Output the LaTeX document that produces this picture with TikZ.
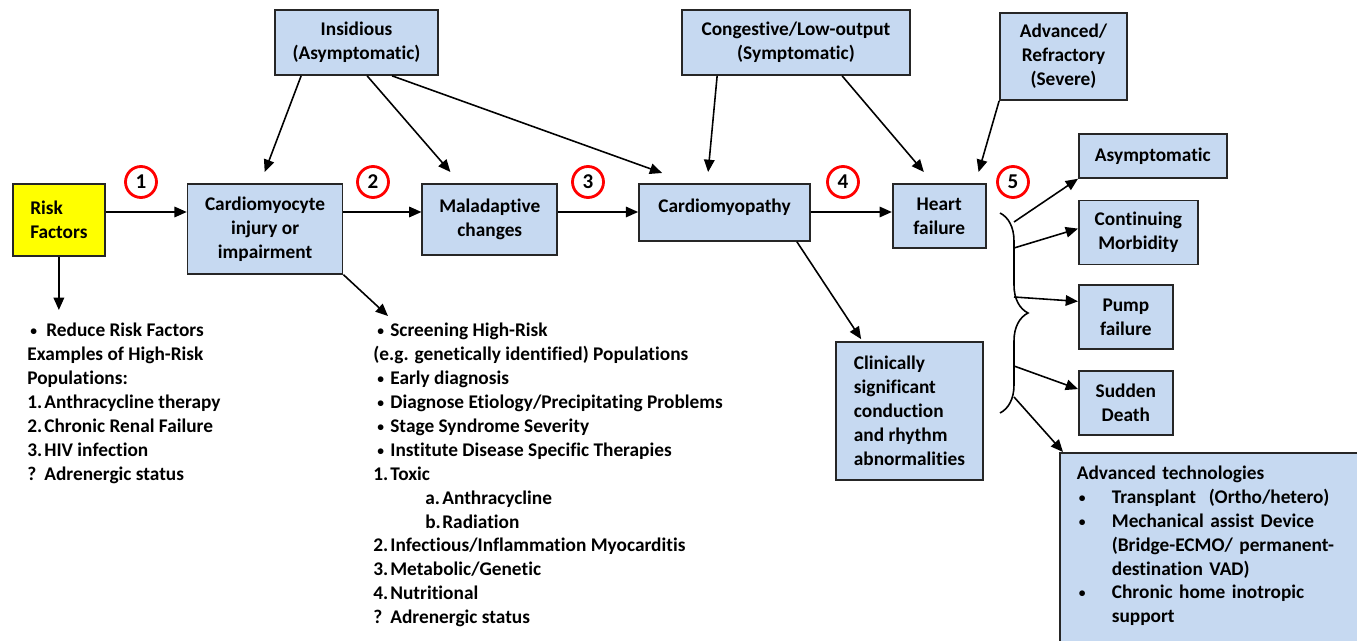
\documentclass[tikz,border=0pt]{standalone}
\usepackage{fontspec}
\setmainfont{Carlito}[Ligatures=NoCommon]
\usetikzlibrary{arrows.meta,positioning,calc,decorations.pathreplacing}
\definecolor{boxblue}{HTML}{C6D9F1}
\definecolor{riskyellow}{HTML}{FFFF00}
\newcommand{\dotb}{\raisebox{0.1ex}{\scalebox{0.7}{\textbullet}}}

\begin{document}
\begin{tikzpicture}[
x=0.02cm, y=-0.02cm,
every node/.style={font=\fontsize{11}{13.6}\selectfont\bfseries},
block/.style={draw=black!85, line width=1pt, fill=boxblue, align=center, inner sep=2pt},
stage/.style={circle, draw=red, line width=1.6pt, minimum size=0.62cm, inner sep=0pt, font=\fontsize{12}{14}\selectfont\bfseries},
arrow/.style={-{Triangle[length=7pt,width=6pt]}, line width=0.9pt},
txt/.style={align=left, inner sep=0pt, anchor=north west}
]
\useasboundingbox (0,0) rectangle (1357,641);
\clip (0,0) rectangle (1357,641);

% -------- Main row --------
\node[block, fill=riskyellow, align=left, minimum width=1.84cm, minimum height=1.44cm, anchor=north west] (risk) at (12,183) {Risk\\Factors};
\node[block, minimum width=3.1cm, minimum height=1.8cm, right=1.62cm of risk.north east, anchor=north west] (cmc) {Cardiomyocyte\\injury or\\impairment};
\node[block, minimum width=2.7cm, minimum height=1.42cm, right=1.56cm of cmc.north east, anchor=north west] (mal) {Maladaptive\\changes};
\node[block, minimum width=3.42cm, minimum height=1.14cm, text depth=8pt, right=1.6cm of mal.north east, anchor=north west] (cmp) {Cardiomyopathy};
\node[block, minimum width=1.86cm, minimum height=1.28cm, right=1.62cm of cmp.north east, anchor=north west] (hf) {Heart\\failure};

% -------- Stages --------
\node[stage] (s1) at (141,182) {1};
\node[stage] (s2) at (373,182) {2};
\node[stage] (s3) at (588,182) {3};
\node[stage] (s4) at (843,182) {4};
\node[stage] (s5) at (1013,182) {5};

% -------- Clinical syndromes --------
\node[block, minimum width=3.26cm, minimum height=1.3cm] (ins) at (356.5,42.5) {Insidious\\(Asymptomatic)};
\node[block, minimum width=4.56cm, minimum height=1.3cm] (cong) at (796,42.5) {Congestive/Low-output\\(Symptomatic)};
\node[block, minimum width=2.54cm, minimum height=1.74cm] (adv) at (1063.5,56.5) {Advanced/\\Refractory\\(Severe)};

\draw[arrow] ([xshift=0.54cm]ins.south west) -- ([xshift=1.56cm,yshift=0.22cm]cmc.north west);
\draw[arrow] ([xshift=1.86cm]ins.south west) -- ([xshift=0.58cm,yshift=0.22cm]mal.north west);
\draw[arrow] ([xshift=2.36cm]ins.south west) -- ([xshift=0.48cm,yshift=0.2cm]cmp.north west);
\draw[arrow] ([xshift=0.72cm]cong.south west) -- ([xshift=1.4cm,yshift=0.22cm]cmp.north west);
\draw[arrow] ([xshift=3.22cm]cong.south west) -- ([xshift=0.64cm,yshift=0.22cm]hf.north west);
\draw[arrow] (adv.south west) -- ([xshift=-0.16cm,yshift=0.22cm]hf.north east);

% -------- Row arrows --------
\coordinate (row) at (0,212);
\draw[arrow] (risk.east |- row) -- (cmc.west |- row);
\draw[arrow] (cmc.east |- row) -- (mal.west |- row);
\draw[arrow] (mal.east |- row) -- (cmp.west |- row);
\draw[arrow] (cmp.east |- row) -- (hf.west |- row);

% -------- Interventions --------
\node[txt] (rlist) at (27,323) {%
\hspace*{0.06cm}\makebox[0.32cm][l]{\dotb}Reduce Risk Factors\\
Examples of High-Risk\\
Populations:\\
\makebox[0.34cm][l]{1.}Anthracycline therapy\\
\makebox[0.34cm][l]{2.}Chronic Renal Failure\\
\makebox[0.34cm][l]{3.}HIV infection\\
\makebox[0.34cm][l]{?}Adrenergic status};

\node[txt] (plist) at (373,323) {%
\hspace*{0.08cm}\makebox[0.26cm][l]{\dotb}Screening High-Risk\\
(e.g. genetically identified) Populations\\
\hspace*{0.08cm}\makebox[0.26cm][l]{\dotb}Early diagnosis\\
\hspace*{0.08cm}\makebox[0.26cm][l]{\dotb}Diagnose Etiology/Precipitating Problems\\
\hspace*{0.08cm}\makebox[0.26cm][l]{\dotb}Stage Syndrome Severity\\
\hspace*{0.08cm}\makebox[0.26cm][l]{\dotb}Institute Disease Specific Therapies\\
\makebox[0.34cm][l]{1.}Toxic\\
\hspace*{1.04cm}\makebox[0.34cm][l]{a.}Anthracycline\\
\hspace*{1.04cm}\makebox[0.34cm][l]{b.}Radiation\\
\makebox[0.34cm][l]{2.}Infectious/Inflammation Myocarditis\\
\makebox[0.34cm][l]{3.}Metabolic/Genetic\\
\makebox[0.34cm][l]{4.}Nutritional\\
\makebox[0.34cm][l]{?}Adrenergic status};

\draw[arrow, shorten >=0.26cm] (risk.south) -- (risk.south |- rlist.north);
\draw[arrow] (cmc.south east) -- ([xshift=0.3cm,yshift=0.14cm]plist.north west);

% -------- Conduction --------
\node[block, align=left, minimum width=2.94cm, minimum height=2.76cm] (clin) at (909.5,411) {Clinically\\significant\\conduction\\and rhythm\\abnormalities};
\draw[arrow] ([xshift=-0.28cm]cmp.south east) -- ([xshift=0.52cm,yshift=0.04cm]clin.north west);

% -------- Outcomes --------
\node[block, minimum width=2.96cm, minimum height=0.88cm, anchor=north west] (asym) at (1078,133) {Asymptomatic};
\node[block, minimum width=2.38cm, minimum height=1.28cm, below=0.42cm of asym.south west, anchor=north west] (cont) {Continuing\\Morbidity};
\node[block, minimum width=1.88cm, minimum height=1.28cm, below=0.38cm of cont.south west, anchor=north west] (pump) {Pump\\failure};
\node[block, minimum width=1.88cm, minimum height=1.28cm, below=0.4cm of pump.south west, anchor=north west] (sud) {Sudden\\Death};
\node[block, align=left, anchor=north west, text width=6cm, inner xsep=0.34cm, inner ysep=0.26cm] (tech) at (1059,452) {%
Advanced technologies\\
\hspace*{0.04cm}\makebox[0.66cm][l]{\dotb}Transplant\ \ (Ortho/hetero)\\
\hspace*{0.04cm}\makebox[0.66cm][l]{\dotb}Mechanical assist Device\\
\hspace*{0.7cm}(Bridge-ECMO/ permanent-\\
\hspace*{0.7cm}destination VAD)\\
\hspace*{0.04cm}\makebox[0.66cm][l]{\dotb}Chronic home inotropic\\
\hspace*{0.7cm}support\\[1cm]\mbox{}};

\coordinate (btop) at (1000,213);
\coordinate (bbot) at (1000,413);
\draw[decorate, decoration={brace, amplitude=0.56cm}, line width=0.9pt] (btop) -- (bbot);

\coordinate (o1) at (1014,222);
\coordinate (o2) at (1014,248);
\coordinate (o3) at (1014,297);
\coordinate (o4) at (1014,366);
\coordinate (o5) at (1014,397);
\draw[arrow] (o1) -- (asym.south west);
\draw[arrow] (o2) -- ([yshift=0.08cm]cont.west);
\draw[arrow] (o3) -- ([yshift=0.32cm]pump.west);
\draw[arrow] (o4) -- ([yshift=0.28cm]sud.west);
\draw[arrow] (o5) -- ([xshift=0.08cm]tech.north west);

\end{tikzpicture}
\end{document}
